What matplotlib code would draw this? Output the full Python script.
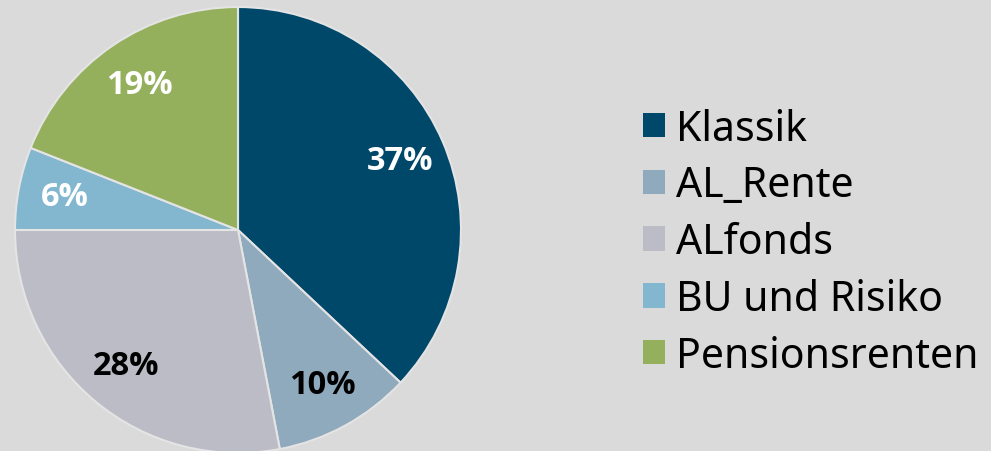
import matplotlib.pyplot as plt

# shares of the portfolio, in percent
categories = ["Klassik", "AL_Rente", "ALfonds", "BU und Risiko", "Pensionsrenten"]
shares = [37, 10, 28, 6, 19]
colors = ["#00486a", "#8fa9bd", "#bbbcc6", "#83b7cf", "#94b05d"]
label_colors = ["white", "black", "black", "white", "white"]

bg = "#dadada"


def main() -> None:
    fig = plt.figure(figsize=(9.91, 4.52), dpi=100, facecolor=bg)
    ax = fig.add_axes([15 / 991, -2 / 452, 446 / 991, 446 / 452])
    ax.set_facecolor(bg)

    wedges, texts, autotexts = ax.pie(
        shares, colors=colors, startangle=90, counterclock=False,
        autopct="%1.0f%%", pctdistance=0.79, radius=1.0,
        wedgeprops=dict(edgecolor="#e4e4e4", linewidth=1.5),
        textprops=dict(fontsize=23.5, fontweight="bold", family="Open Sans"),
    )
    for t, c in zip(autotexts, label_colors):
        t.set_color(c)

    ax.set_xlim(-1, 1)
    ax.set_ylim(-1, 1)
    ax.set_aspect("equal")
    ax.axis("off")

    leg = fig.legend(
        wedges, categories, loc="center left", bbox_to_anchor=(643 / 991, 0.462),
        frameon=False, prop=dict(family="Noto Sans", size=29.5),
        borderpad=0, borderaxespad=0,
        handlelength=0.54, handleheight=0.54, handletextpad=0.27, labelspacing=0.36,
    )
    for h in leg.legend_handles:
        h.set_edgecolor("none")

    fig.savefig("out.png", dpi=100, facecolor=bg)
    plt.close(fig)


if __name__ == "__main__":
    main()
